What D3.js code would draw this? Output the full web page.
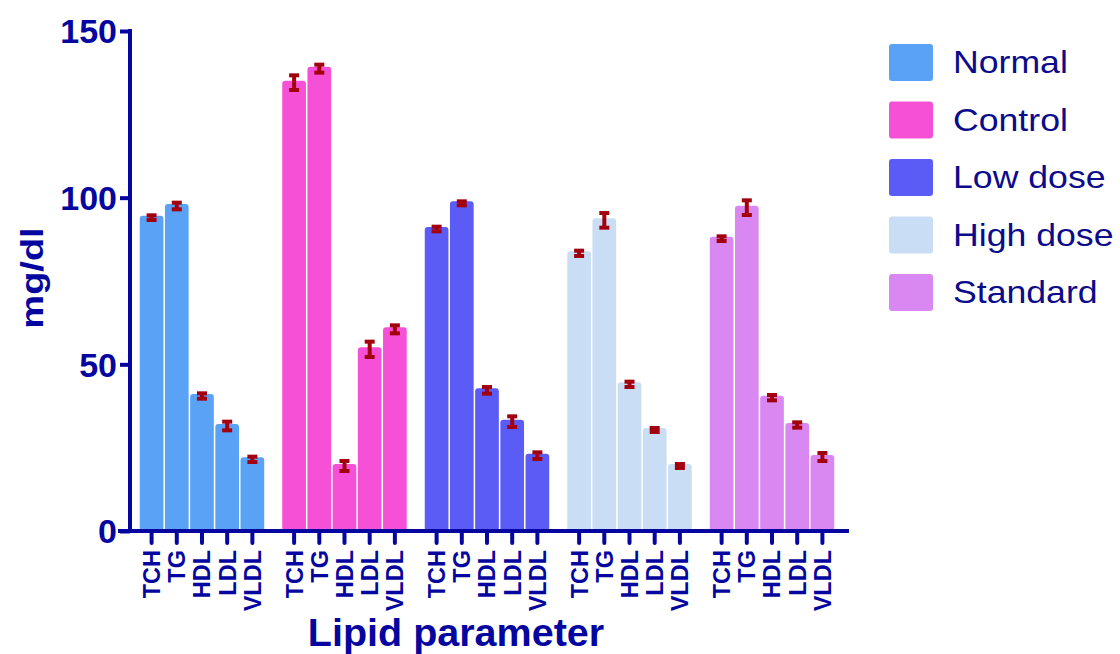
<!DOCTYPE html>
<html>
<head>
<meta charset="utf-8">
<script src="https://cdn.jsdelivr.net/npm/d3@7"></script>
<style>
  body { margin: 0; background: #fff; }
  svg { font-family: "Liberation Sans", Arial, sans-serif; }
</style>
</head>
<body>
<div id="chart"></div>
<script>
// data (mean, SEM)
var groups = ["Normal", "Control", "Low dose", "High dose", "Standard"];
var params = ["TCH", "TG", "HDL", "LDL", "VLDL"];
var colors = ["#59a2f5", "#f650d6", "#5b5bf6", "#c9ddf5", "#da88f1"];

var normalVals   = [94.0, 97.5, 40.5, 31.5, 21.5];
var controlVals  = [134.5, 138.7, 19.5, 54.5, 60.5];
var lowVals      = [90.6, 98.3, 42.2, 32.8, 22.6];
var highVals     = [83.3, 93.2, 44.0, 30.3, 19.5];
var standardVals = [87.7, 97.0, 40.0, 31.8, 22.2];

var normalErr   = [0.7, 1.0, 0.8, 1.3, 0.8];
var controlErr  = [2.2, 1.2, 1.5, 2.3, 1.2];
var lowErr      = [0.7, 0.6, 1.0, 1.6, 1.0];
var highErr     = [0.8, 2.2, 0.8, 0.6, 0.6];
var standardErr = [0.7, 2.2, 0.8, 0.8, 1.2];

var yTicks = [0, 50, 100, 150];

var allVals = [normalVals, controlVals, lowVals, highVals, standardVals];
var allErr = [normalErr, controlErr, lowErr, highErr, standardErr];

var svgWidth = 1120;
var svgHeight = 654;
var axisColor = "#0505a0";
var errColor = "#a3000f";

var data = [];
groups.forEach((g, gi) => {
    params.forEach((p, pi) => {
        data.push({ group: g, param: p, value: allVals[gi][pi], err: allErr[gi][pi], color: colors[gi] });
    });
});

var svg = d3.select("#chart")
    .append("svg")
    .attr("width", svgWidth)
    .attr("height", svgHeight);

var x0 = d3.scaleBand()
    .domain(groups)
    .range([139, 835])
    .paddingInner(0.116)
    .paddingOuter(0);

var x1 = d3.scaleBand()
    .domain(params)
    .range([0, x0.bandwidth()])
    .paddingInner(0.06)
    .paddingOuter(0.03);

var y = d3.scaleLinear()
    .domain([0, 150])
    .range([531, 31]);

// bars
svg.append("g")
    .selectAll("rect")
    .data(data)
    .enter()
    .append("rect")
    .attr("x", d => x0(d.group) + x1(d.param))
    .attr("y", d => y(d.value) - 2)
    .attr("width", x1.bandwidth())
    .attr("height", d => y(0) - y(d.value) + 2)
    .attr("rx", 3)
    .attr("fill", d => d.color);

// error bars
var eb = svg.append("g")
    .selectAll("g")
    .data(data)
    .enter()
    .append("g")
    .attr("transform", d => `translate(${x0(d.group) + x1(d.param) + x1.bandwidth() / 2},0)`)
    .attr("stroke", errColor);

eb.append("line")
    .attr("y1", d => y(d.value + d.err))
    .attr("y2", d => y(d.value - d.err))
    .attr("stroke-width", 4);
eb.append("line")
    .attr("x1", -5).attr("x2", 5)
    .attr("y1", d => y(d.value + d.err))
    .attr("y2", d => y(d.value + d.err))
    .attr("stroke-width", 4);
eb.append("line")
    .attr("x1", -5).attr("x2", 5)
    .attr("y1", d => y(d.value - d.err))
    .attr("y2", d => y(d.value - d.err))
    .attr("stroke-width", 4);

// y axis
var leftAxis = d3.axisLeft(y).tickValues(yTicks).tickSize(10).tickPadding(3);
var yAxis = svg.append("g")
    .attr("transform", "translate(130,0)")
    .call(leftAxis);
yAxis.select(".domain").remove();
yAxis.append("line")
    .attr("y1", y(150) - 2).attr("y2", y(0))
    .attr("stroke", axisColor).attr("stroke-width", 4);
yAxis.selectAll(".tick line").attr("stroke", axisColor).attr("stroke-width", 4);
yAxis.selectAll(".tick text")
    .attr("fill", axisColor)
    .attr("font-size", 34)
    .attr("font-weight", "bold")
    .attr("font-family", "Liberation Sans, Arial, sans-serif")
    .attr("dy", "0.35em");

// x axis
var xAxis = svg.append("g");
xAxis.append("line")
    .attr("x1", 118).attr("x2", 849)
    .attr("y1", y(0)).attr("y2", y(0))
    .attr("stroke", axisColor).attr("stroke-width", 4);

var ticks = xAxis.selectAll("g.xt")
    .data(data)
    .enter()
    .append("g")
    .attr("class", "xt")
    .attr("transform", d => `translate(${x0(d.group) + x1(d.param) + x1.bandwidth() / 2},${y(0)})`);
ticks.append("line")
    .attr("y1", 0).attr("y2", 12)
    .attr("stroke", axisColor).attr("stroke-width", 4)
    .attr("stroke-linecap", "round");
ticks.append("text")
    .attr("transform", "translate(0,19) rotate(-90)")
    .attr("text-anchor", "end")
    .attr("dy", "0.36em")
    .attr("fill", axisColor)
    .attr("font-size", 23.5)
    .attr("font-weight", "bold")
    .text(d => d.param);

// axis titles
svg.append("text")
    .attr("transform", "translate(43,278) rotate(-90) scale(1,0.82)")
    .attr("text-anchor", "middle")
    .attr("fill", axisColor)
    .attr("font-size", 38)
    .attr("font-weight", "bold")
    .text("mg/dl");

svg.append("text")
    .attr("x", 456)
    .attr("y", 646)
    .attr("text-anchor", "middle")
    .attr("fill", axisColor)
    .attr("font-size", 39.5)
    .attr("font-weight", "bold")
    .text("Lipid parameter");

// legend
var legend = svg.append("g")
    .selectAll("g")
    .data(groups)
    .enter()
    .append("g")
    .attr("transform", (d, i) => `translate(889,${62 + i * 57.5})`);
legend.append("rect")
    .attr("x", 0).attr("y", -18)
    .attr("width", 44).attr("height", 37)
    .attr("rx", 3)
    .attr("fill", (d, i) => colors[i]);
legend.append("text")
    .attr("transform", "translate(64,0) scale(1.15,1)")
    .attr("dy", "0.36em")
    .attr("fill", "#0b0b8c")
    .attr("font-size", 31)
    .text(d => d);
</script>
</body>
</html>
